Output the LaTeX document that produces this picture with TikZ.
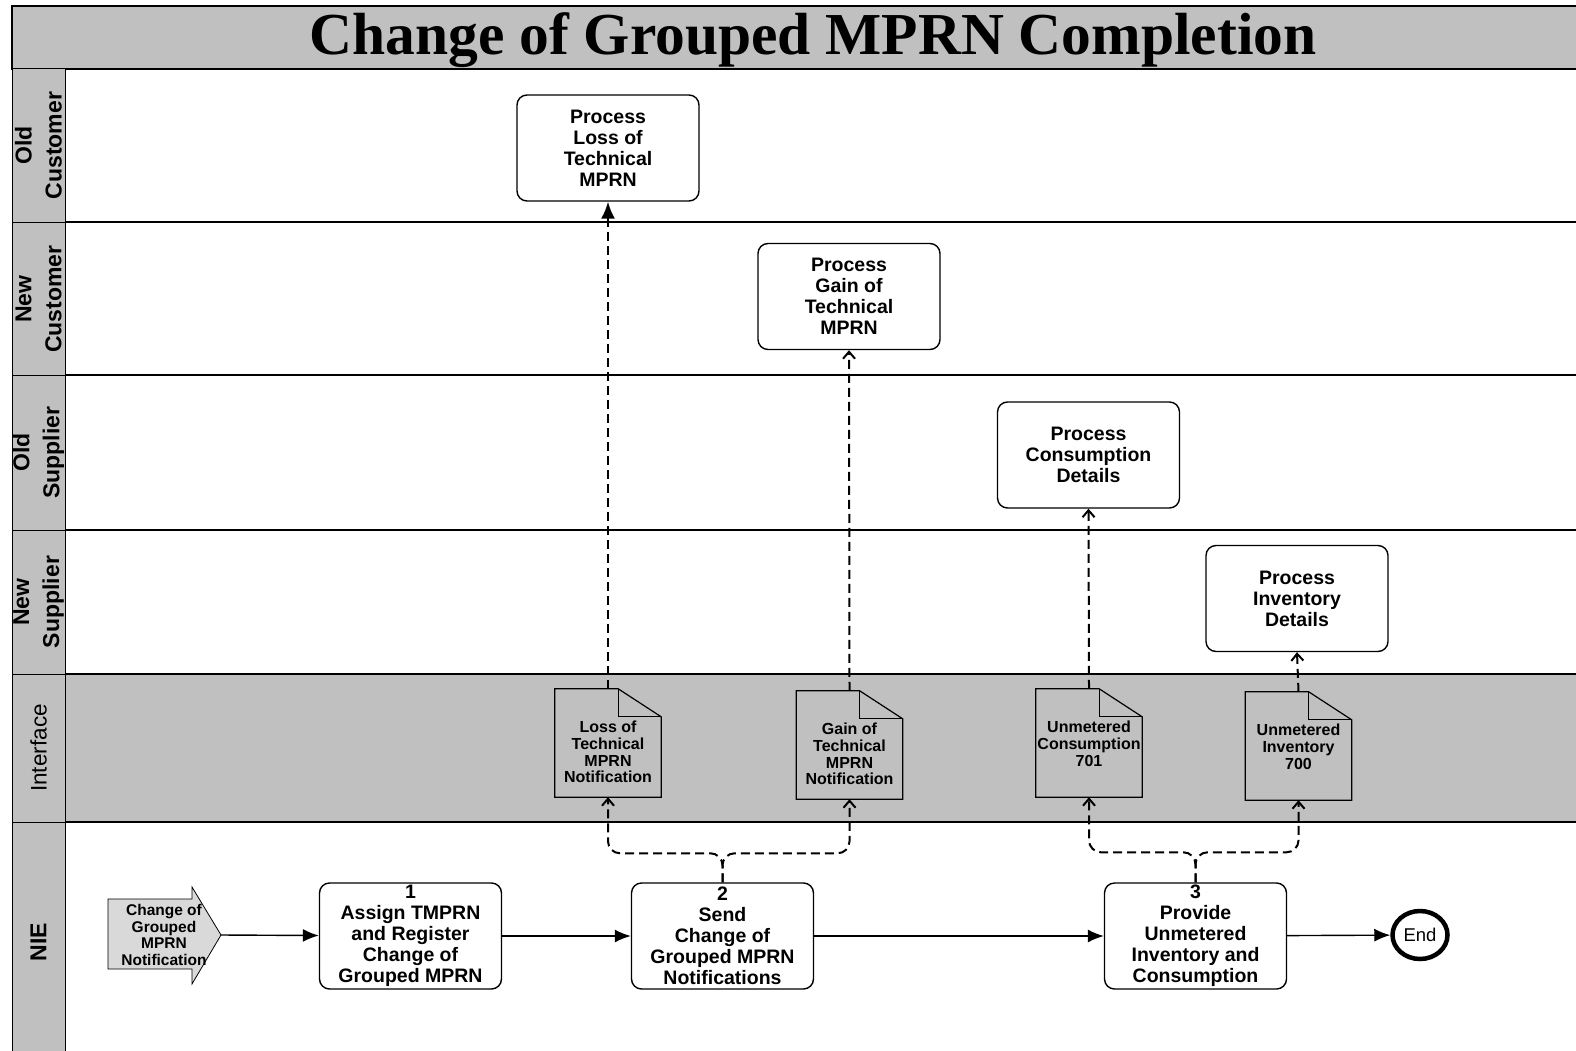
\documentclass[tikz,border=0pt]{standalone}
\usepackage{fontspec}
\setmainfont{Liberation Sans}
\newfontfamily\titlefont{Liberation Serif}
\usepackage{tikz}
\usetikzlibrary{arrows,arrows.meta,positioning,shapes.geometric}
\definecolor{lanegray}{RGB}{192,192,192}
\definecolor{startgray}{RGB}{217,217,217}
\tikzset{
    %Define style for lane labels
    lanelabel/.style={
           rotate=90,
           align=center,
           inner sep=0pt,
           font=\bfseries\fontsize{23}{30}\selectfont},
    %Define style for boxes
    process/.style={
           rectangle,
           rounded corners=10pt,
           draw=black, line width=1.4pt,
           fill=white,
           minimum width=182pt,
           minimum height=106pt,
           inner sep=1pt,
           align=center,
           font=\bfseries\fontsize{19.5}{21}\selectfont},
    %Define style for documents
    docshape/.style={
           rectangle,
           minimum width=106pt,
           minimum height=108pt,
           inner sep=0pt},
    doctext/.style={
           align=center,
           inner sep=0pt,
           font=\bfseries\fontsize{16}{16.7}\selectfont},
    starttext/.style={
           align=center,
           inner sep=0pt,
           font=\bfseries\fontsize{15.5}{16.5}\selectfont},
    endnode/.style={
           ellipse,
           draw=black, line width=4.5pt,
           minimum width=55pt,
           minimum height=48pt,
           inner sep=0pt,
           font=\fontsize{18.5}{20}\selectfont},
    % Define arrow styles
    flow/.style={
           -{Latex[length=16pt,width=13pt]},
           line width=1.4pt},
    msg/.style={
           -{Straight Barb[length=7pt,width=12pt]},
           line width=2pt,
           dash pattern=on 9pt off 5pt}
}
% document outline with folded corner
\newcommand{\drawdoc}[1]{%
  \draw[line width=1.2pt] (#1.north west) -- ([xshift=-43pt]#1.north east)
     -- ([yshift=-28pt]#1.north east) -- (#1.south east) -- (#1.south west) -- cycle;
  \draw[line width=1.2pt] ([xshift=-43pt]#1.north east) |- ([yshift=-28pt]#1.north east);
}

\begin{document}
\begin{tikzpicture}[x=1pt,y=-1pt]
\useasboundingbox (0,0) rectangle (1576,1051);
\clip (0,0) rectangle (1576,1051);
% title bar
\draw[fill=lanegray, line width=2pt] (12,6) rectangle (1600,69);
\node[anchor=base, font=\titlefont\bfseries\fontsize{59.5}{62}\selectfont] (title) at (813,55) {Change of Grouped MPRN Completion};
% lanes
\draw[line width=1.8pt] (65,69) rectangle (1600,222);
\draw[line width=1.8pt] (65,222) rectangle (1600,375);
\draw[line width=1.8pt] (65,375) rectangle (1600,530);
\draw[line width=1.8pt] (65,530) rectangle (1600,674);
\draw[fill=lanegray, line width=1.8pt] (65,674) rectangle (1600,822);
\draw[line width=1.8pt] (65,822) rectangle (1600,1100);
\draw[fill=lanegray, line width=1pt] (12,69) rectangle (65,222);
\draw[fill=lanegray, line width=1pt] (12,222) rectangle (65,375);
\draw[fill=lanegray, line width=1pt] (12,375) rectangle (65,530);
\draw[fill=lanegray, line width=1pt] (12,530) rectangle (65,674);
\draw[fill=lanegray, line width=1pt] (12,674) rectangle (65,822);
\draw[fill=lanegray, line width=1pt] (12,822) rectangle (65,1100);
\node[lanelabel] (oldcust) at (38.5,145.5) {Old\\Customer};
\node[lanelabel] (newcust) at (38.5,299) {New\\Customer};
\node[lanelabel] (oldsupp) at (38.5,452.5) {Old\\Supplier};
\node[lanelabel] (newsupp) at (38.5,602) {New\\Supplier};
\node[lanelabel, font=\fontsize{22.5}{30}\selectfont] (iface) at (38.5,748) {Interface};
\node[lanelabel] (nie) at (38.5,942) {NIE};
% processes
\node[process] (p1) at (608,148) {Process\\Loss of\\Technical\\MPRN};
\node[process] (p2) at (849,296.5) {Process\\Gain of\\Technical\\MPRN};
\node[process] (p3) at (1088.5,455) {Process\\Consumption\\Details};
\node[process] (p4) at (1297,598.5) {Process\\Inventory\\Details};
% documents
\node[docshape] (d1) at (608,743) {};
\node[docshape] (d2) at (849.5,745) {};
\node[docshape] (d3) at (1089,743) {};
\node[docshape] (d4) at (1298.5,746) {};
\drawdoc{d1}
\drawdoc{d2}
\drawdoc{d3}
\drawdoc{d4}
\node[doctext, below=32pt of d1.north] (d1t) {Loss of\\Technical\\MPRN\\Notification};
\node[doctext, below=32pt of d2.north] (d2t) {Gain of\\Technical\\MPRN\\Notification};
\node[doctext, below=32pt of d3.north] (d3t) {Unmetered\\Consumption\\701};
\node[doctext, below=32pt of d4.north] (d4t) {Unmetered\\Inventory\\700};
% NIE steps
\draw[fill=startgray, line width=0.8pt] (108,899) -- (192,899) -- (192,887) -- (221,935)
   -- (192,984) -- (192,969) -- (108,969) -- cycle;
\node[starttext] (start) at (164,935) {Change of\\Grouped\\MPRN\\Notification};
\coordinate (starttip) at (221,935);
\node[process] (b1) at (410.5,936) {1\\Assign TMPRN\\and Register\\Change of\\Grouped MPRN};
\node[process] (b2) at (722.5,936) {2\\Send\\Change of\\Grouped MPRN\\Notifications};
\node[process] (b3) at (1195.5,936) {3\\Provide\\Unmetered\\Inventory and\\Consumption};
\node[endnode] (end) at (1420,935) {End};
% connectors
\draw[flow] (starttip) -- (b1);
\draw[flow] (b1) -- (b2);
\draw[flow] (b2) -- (b3);
\draw[flow] (b3) -- (end);
\draw[msg, rounded corners=12pt] (b2.north) -- ++(0,-29) -| (d1.south);
\draw[msg, rounded corners=12pt] (b2.north) -- ++(0,-29) -| (d2.south);
\draw[msg, rounded corners=12pt] (b3.north) -- ++(0,-30) -| (d3.south);
\draw[msg, rounded corners=12pt] (b3.north) -- ++(0,-30) -| (d4.south);
\draw[msg, -{Latex[length=17pt,width=14pt]}] (d1.north) -- (p1.south);
\draw[msg] (d2.north) -- (p2.south);
\draw[msg] (d3.north) -- (p3.south);
\draw[msg] (d4.north) -- (p4.south);
\end{tikzpicture}
\end{document}
